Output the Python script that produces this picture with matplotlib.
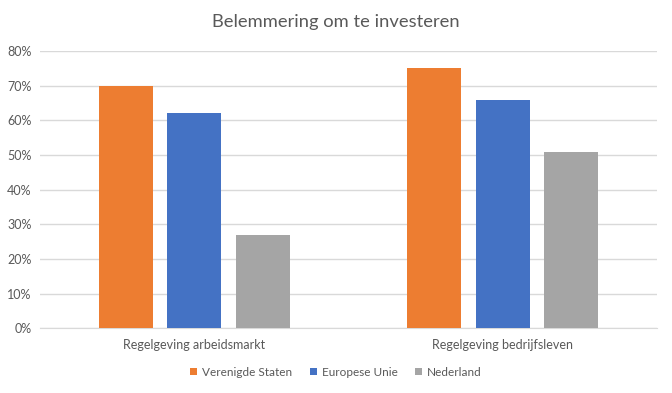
import matplotlib.pyplot as plt
import numpy as np
from matplotlib.ticker import PercentFormatter

# Données
categories = ['Regelgeving arbeidsmarkt', 'Regelgeving bedrijfsleven']
series_names = ['Verenigde Staten', 'Europese Unie', 'Nederland']
verenigde_staten = [0.70, 0.75]
europese_unie = [0.62, 0.66]
nederland = [0.27, 0.51]

colors = ['#ED7D31', '#4472C4', '#A5A5A5']
text_color = '#595959'

plt.rcParams['font.family'] = ['Lato', 'DejaVu Sans']

fig = plt.figure(figsize=(6.72, 3.93), dpi=100)
ax = fig.add_axes([40 / 672, 1 - 328.3 / 393, 617 / 672, 277.3 / 393])

x = np.arange(len(categories))
bar_width = 0.175
pitch = 0.222
for i, (vals, name) in enumerate(zip([verenigde_staten, europese_unie, nederland], series_names)):
    ax.bar(x + (i - 1) * pitch, vals, width=bar_width, color=colors[i], label=name, zorder=3)

ax.set_xlim(-0.5, 1.5)
ax.set_ylim(0, 0.8)
ax.set_yticks(np.arange(0, 0.81, 0.1))
ax.yaxis.set_major_formatter(PercentFormatter(1.0, decimals=0))
ax.set_xticks(x)
ax.set_xticklabels(categories)

ax.grid(axis='y', color='#D9D9D9', linewidth=1, zorder=0)
for s in ['top', 'right', 'left']:
    ax.spines[s].set_visible(False)
ax.spines['bottom'].set_color('#D9D9D9')
ax.tick_params(axis='both', length=0, colors=text_color, labelsize=9)
ax.tick_params(axis='x', pad=8)
ax.tick_params(axis='y', pad=6)

fig.text(0.5, 1 - 22 / 393, 'Belemmering om te investeren', ha='center', va='center',
         fontsize=13.2, color=text_color)

leg = fig.legend(loc='center', bbox_to_anchor=(0.5, 1 - 372 / 393), ncol=3, frameon=False,
                 fontsize=8.5, handlelength=0.6, handleheight=0.6, handletextpad=0.4,
                 columnspacing=1.5)
for t in leg.get_texts():
    t.set_color(text_color)

fig.savefig('out.png', dpi=100)
